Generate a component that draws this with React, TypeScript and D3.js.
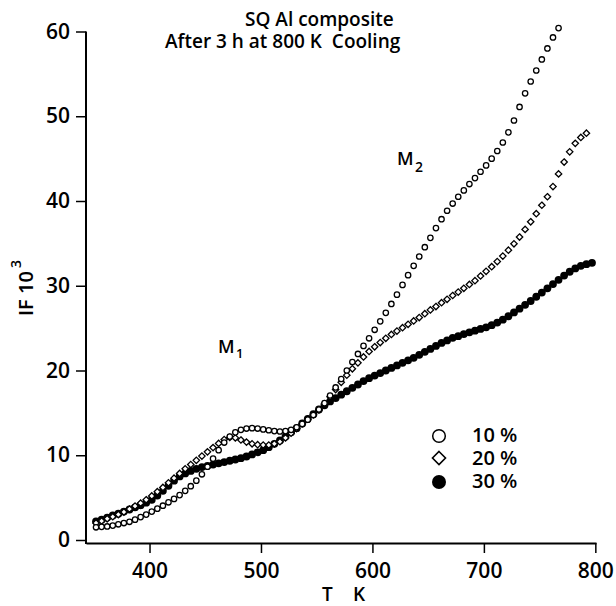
import React, { useRef, useEffect } from "react";
import * as d3 from "d3";

const width = 616;
const height = 606;
const font = "'Open Sans', 'DejaVu Sans', sans-serif";

// [T (K), IF x 10^3]
const series10: [number, number][] = [
  [352, 1.5], [357, 1.55], [362, 1.6], [367, 1.7], [372, 1.85], [377, 2.0], [382, 2.15], [387, 2.4],
  [392, 2.7], [397, 3.0], [402, 3.35], [407, 3.7], [412, 4.05], [417, 4.45], [422, 4.85], [427, 5.3],
  [432, 5.8], [437, 6.35], [442, 7.0], [447, 7.75], [452, 8.65], [457, 9.6], [462, 10.6], [467, 11.5],
  [472, 12.2], [477, 12.7], [482, 13.0], [487, 13.15], [492, 13.2], [497, 13.15], [502, 13.05], [507, 12.95],
  [512, 12.85], [517, 12.8], [522, 12.85], [527, 13.0], [532, 13.3], [537, 13.7], [542, 14.2], [547, 14.75],
  [552, 15.4], [557, 16.15], [562, 17.05], [567, 18.0], [572, 19.0], [577, 20.0], [582, 21.0], [587, 21.95],
  [592, 22.9], [597, 23.8], [602, 24.8], [607, 25.8], [612, 26.8], [617, 27.85], [622, 28.95], [627, 30.1],
  [632, 31.25], [637, 32.35], [642, 33.45], [647, 34.55], [652, 35.65], [657, 36.8], [662, 37.85], [667, 38.85],
  [672, 39.7], [677, 40.5], [682, 41.25], [687, 42.0], [692, 42.7], [697, 43.45], [702, 44.2], [707, 45.0],
  [712, 45.9], [717, 46.9], [722, 48.1], [727, 49.5], [732, 51.1], [737, 52.7], [742, 54.1], [747, 55.4],
  [752, 56.7], [757, 58.0], [762, 59.3], [767, 60.4],
];

const series20: [number, number][] = [
  [352, 2.0], [357, 2.25], [362, 2.5], [367, 2.75], [372, 3.0], [377, 3.3], [382, 3.65], [387, 4.0],
  [392, 4.35], [397, 4.75], [402, 5.2], [407, 5.7], [412, 6.2], [417, 6.75], [422, 7.3], [427, 7.85],
  [432, 8.4], [437, 8.9], [442, 9.4], [447, 9.9], [452, 10.4], [457, 10.9], [462, 11.4], [467, 11.85],
  [472, 12.1], [477, 12.05], [482, 11.8], [487, 11.55], [492, 11.35], [497, 11.25], [502, 11.2], [507, 11.2],
  [512, 11.35], [517, 11.6], [522, 12.05], [527, 12.6], [532, 13.15], [537, 13.7], [542, 14.25], [547, 14.75],
  [552, 15.35], [557, 16.05], [562, 16.9], [567, 17.75], [572, 18.6], [577, 19.45], [582, 20.2], [587, 20.9],
  [592, 21.6], [597, 22.25], [602, 22.8], [607, 23.3], [612, 23.8], [617, 24.25], [622, 24.65], [627, 25.05],
  [632, 25.45], [637, 25.85], [642, 26.25], [647, 26.7], [652, 27.15], [657, 27.55], [662, 28.0], [667, 28.4],
  [672, 28.85], [677, 29.25], [682, 29.7], [687, 30.15], [692, 30.6], [697, 31.15], [702, 31.7], [707, 32.25],
  [712, 32.85], [717, 33.5], [722, 34.2], [727, 34.95], [732, 35.75], [737, 36.65], [742, 37.55], [747, 38.5],
  [752, 39.5], [757, 40.5], [762, 41.7], [767, 43.2], [772, 44.6], [777, 45.8], [782, 46.8], [787, 47.5],
  [792, 48.0],
];

const series30: [number, number][] = [
  [352, 2.2], [357, 2.4], [362, 2.65], [367, 2.9], [372, 3.1], [377, 3.35], [382, 3.6], [387, 3.85],
  [392, 4.1], [397, 4.4], [402, 4.75], [407, 5.25], [412, 5.8], [417, 6.4], [422, 7.0], [427, 7.5],
  [432, 7.85], [437, 8.15], [442, 8.4], [447, 8.6], [452, 8.75], [457, 8.9], [462, 9.05], [467, 9.2],
  [472, 9.35], [477, 9.5], [482, 9.65], [487, 9.85], [492, 10.1], [497, 10.35], [502, 10.6], [507, 10.95],
  [512, 11.35], [517, 11.75], [522, 12.2], [527, 12.7], [532, 13.2], [537, 13.75], [542, 14.3], [547, 14.85],
  [552, 15.4], [557, 15.9], [562, 16.35], [567, 16.75], [572, 17.15], [577, 17.55], [582, 17.95], [587, 18.35],
  [592, 18.75], [597, 19.1], [602, 19.4], [607, 19.7], [612, 20.0], [617, 20.3], [622, 20.6], [627, 20.9],
  [632, 21.2], [637, 21.5], [642, 21.85], [647, 22.2], [652, 22.55], [657, 22.9], [662, 23.25], [667, 23.55],
  [672, 23.85], [677, 24.05], [682, 24.3], [687, 24.5], [692, 24.7], [697, 24.9], [702, 25.1], [707, 25.35],
  [712, 25.65], [717, 26.0], [722, 26.4], [727, 26.85], [732, 27.3], [737, 27.75], [742, 28.2], [747, 28.7],
  [752, 29.2], [757, 29.7], [762, 30.2], [767, 30.7], [772, 31.2], [777, 31.65], [782, 32.05], [787, 32.35],
  [792, 32.55], [797, 32.7],
];

const xTicks = [400, 500, 600, 700, 800];
const yTicks = [0, 10, 20, 30, 40, 50, 60];
const legendLabels = ["10 %", "20 %", "30 %"];

const App = () => {
  const ref = useRef<SVGSVGElement>(null);

  useEffect(() => {
    const svg = d3.select(ref.current);
    svg.selectAll("*").remove();

    const x = d3.scaleLinear().domain([343, 800.6]).range([86, 596]);
    const y = d3.scaleLinear().domain([0, 60]).range([540, 31.5]);

    // x axis
    const xAxis = svg
      .append("g")
      .attr("transform", "translate(0,543)")
      .call(d3.axisBottom(x).tickValues(xTicks).tickSize(10).tickSizeOuter(0).tickPadding(10));
    xAxis.select(".domain").attr("stroke-width", 2);
    xAxis.selectAll(".tick line").attr("stroke-width", 1.5);
    xAxis
      .selectAll(".tick text")
      .attr("font-family", font)
      .attr("font-size", 21)
      .attr("font-weight", 600)
      .attr("fill", "#000");

    // y axis
    const yAxis = svg
      .append("g")
      .attr("transform", "translate(86,0)")
      .call(d3.axisLeft(y).tickValues(yTicks).tickSize(10).tickSizeOuter(0).tickPadding(6));
    yAxis.select(".domain").remove();
    yAxis.selectAll(".tick line").attr("stroke-width", 1.5);
    yAxis
      .selectAll(".tick text")
      .attr("font-family", font)
      .attr("font-size", 21)
      .attr("font-weight", 600)
      .attr("fill", "#000");
    svg
      .append("line")
      .attr("x1", 86)
      .attr("x2", 86)
      .attr("y1", y(60))
      .attr("y2", 544)
      .attr("stroke", "#000")
      .attr("stroke-width", 2);

    const diamond = d3.symbol().type(d3.symbolDiamond2);

    // 30 % filled circles
    svg
      .append("g")
      .selectAll("circle")
      .data(series30)
      .enter()
      .append("circle")
      .attr("cx", d => x(d[0]))
      .attr("cy", d => y(d[1]))
      .attr("r", 3.9)
      .attr("fill", "#000");

    // 20 % open diamonds
    svg
      .append("g")
      .selectAll("path")
      .data(series20)
      .enter()
      .append("path")
      .attr("d", diamond.size(26)())
      .attr("transform", d => `translate(${x(d[0])},${y(d[1])})`)
      .attr("fill", "#fff")
      .attr("stroke", "#000")
      .attr("stroke-width", 1.3);

    // 10 % open circles
    svg
      .append("g")
      .selectAll("circle")
      .data(series10)
      .enter()
      .append("circle")
      .attr("cx", d => x(d[0]))
      .attr("cy", d => y(d[1]))
      .attr("r", 2.7)
      .attr("fill", "#fff")
      .attr("stroke", "#000")
      .attr("stroke-width", 1.3);

    const txt = (tx: number, ty: number, s: string, size: number) =>
      svg
        .append("text")
        .attr("x", tx)
        .attr("y", ty)
        .attr("font-family", font)
        .attr("font-size", size)
        .attr("font-weight", 600)
        .attr("fill", "#000")
        .style("white-space", "pre")
        .text(s);

    // title
    txt(245, 26, "SQ Al composite", 19);
    txt(165, 48, "After 3 h at 800 K  Cooling", 19);

    // annotations
    txt(218, 353, "M", 18);
    txt(236, 358, "1", 13);
    txt(397, 165, "M", 18);
    txt(415, 172, "2", 14);

    // axis titles
    txt(322, 601, "T", 19);
    txt(353, 601, "K", 19);
    const yl = svg.append("g").attr("transform", "translate(33,316) rotate(-90)");
    yl.append("text")
      .attr("font-family", font)
      .attr("font-size", 20)
      .attr("font-weight", 600)
      .style("white-space", "pre")
      .text("IF 10");
    yl.append("text")
      .attr("x", 48)
      .attr("y", -12)
      .attr("font-family", font)
      .attr("font-size", 14)
      .attr("font-weight", 600)
      .text("3");

    // legend
    const lg = svg.append("g");
    lg.append("circle").attr("cx", 439).attr("cy", 436).attr("r", 6.3)
      .attr("fill", "#fff").attr("stroke", "#000").attr("stroke-width", 1.5);
    lg.append("path").attr("d", diamond.size(108)())
      .attr("transform", "translate(439,458)")
      .attr("fill", "#fff").attr("stroke", "#000").attr("stroke-width", 1.6);
    lg.append("circle").attr("cx", 439).attr("cy", 482).attr("r", 7).attr("fill", "#000");
    legendLabels.forEach((l, i) => txt(472, 442 + i * 23, l, 20));
  }, []);

  return (
    <svg
      ref={ref}
      width={width}
      height={height}
      style={{ position: "absolute", left: 0, top: 0, background: "#fff" }}
    />
  );
};

export default App;
